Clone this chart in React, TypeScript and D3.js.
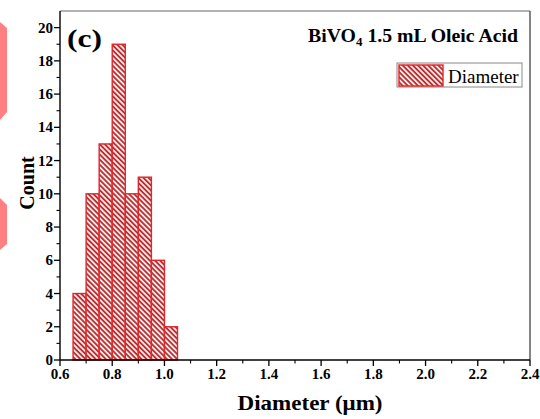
import React from "react";
import * as d3 from "d3";

const binStarts = [0.65, 0.7, 0.75, 0.8, 0.85, 0.9, 0.95, 1.0];
const counts = [4, 10, 13, 19, 10, 11, 6, 2];
const binWidth = 0.05;
const xTicks = [0.6, 0.8, 1.0, 1.2, 1.4, 1.6, 1.8, 2.0, 2.2, 2.4];
const yTicks = [0, 2, 4, 6, 8, 10, 12, 14, 16, 18, 20];

const W = 540, H = 419;
const L = 60, R = 530, T = 11, B = 360;
const FONT = "'Liberation Serif', 'Times New Roman', serif";

export default function App() {
  const x = d3.scaleLinear().domain([0.6, 2.4]).range([L, R]);
  const y = d3.scaleLinear().domain([0, 21]).range([B, T]);
  const xMinor = d3.range(0.7, 2.4, 0.2);
  const yMinor = d3.range(1, 21, 2);
  const red = "#e0262b";
  return (
    <svg width={W} height={H} style={{ position: "absolute", left: 0, top: 0, background: "#fff" }}>
      <defs>
        <pattern id="hatch" patternUnits="userSpaceOnUse" width="3.6" height="3.6" patternTransform="rotate(-45)">
          <rect width="3.6" height="3.6" fill="#fde9e5" />
          <line x1="0.9" y1="0" x2="0.9" y2="3.6" stroke="#b3252b" strokeWidth="1.7" />
        </pattern>
      </defs>
      {/* decorative pink shapes on the left edge */}
      <polygon points="0,22 7,28 7,112 0,120" fill="#ff8080" />
      <polygon points="0,198 7,205 7,244 0,250" fill="#ff8080" />
      {/* frame */}
      <line x1={L} x2={R} y1={T} y2={T} stroke="#666" strokeWidth={1.2} />
      <line x1={R} x2={R} y1={T} y2={B} stroke="#333" strokeWidth={1.2} />
      {/* bars */}
      {binStarts.map((s, i) => (
        <rect key={i} x={x(s)} y={y(counts[i])} width={x(s + binWidth) - x(s)} height={B - y(counts[i])}
          fill="url(#hatch)" stroke={red} strokeWidth={1.4} />
      ))}
      {/* axes */}
      <line x1={L} x2={R} y1={B} y2={B} stroke="#000" strokeWidth={1.4} />
      <line x1={L} x2={L} y1={T} y2={B} stroke="#000" strokeWidth={1.4} />
      {xTicks.map((t) => (
        <g key={"xt" + t}>
          <line x1={x(t)} x2={x(t)} y1={B} y2={B + 6} stroke="#000" strokeWidth={1.3} />
          <text x={x(t)} y={B + 19} textAnchor="middle" fontFamily={FONT} fontWeight="bold" fontSize={15}>{t.toFixed(1)}</text>
        </g>
      ))}
      {xMinor.map((t) => (
        <line key={"xm" + t} x1={x(t)} x2={x(t)} y1={B} y2={B + 3.5} stroke="#000" strokeWidth={1.1} />
      ))}
      {yTicks.map((t) => (
        <g key={"yt" + t}>
          <line x1={L - 6} x2={L} y1={y(t)} y2={y(t)} stroke="#000" strokeWidth={1.3} />
          <text x={L - 7} y={y(t) + 5} textAnchor="end" fontFamily={FONT} fontWeight="bold" fontSize={15}>{t}</text>
        </g>
      ))}
      {yMinor.map((t) => (
        <line key={"ym" + t} x1={L - 3.5} x2={L} y1={y(t)} y2={y(t)} stroke="#000" strokeWidth={1.1} />
      ))}
      {/* labels */}
      <text x={310} y={410} textAnchor="middle" fontFamily={FONT} fontWeight="bold" fontSize={22}
        textLength={145} lengthAdjust="spacingAndGlyphs">Diameter (μm)</text>
      <text transform={`translate(34,183) rotate(-90)`} textAnchor="middle" fontFamily={FONT} fontWeight="bold" fontSize={20}>Count</text>
      <text x={67} y={47} fontFamily={FONT} fontWeight="bold" fontSize={26} textLength={35} lengthAdjust="spacingAndGlyphs">(c)</text>
      <text x={518} y={42} textAnchor="end" fontFamily={FONT} fontWeight="bold" fontSize={19.8}>
        BiVO<tspan fontSize={13} dy={4}>4</tspan><tspan dy={-4}> 1.5 mL Oleic Acid</tspan>
      </text>
      {/* legend */}
      <rect x={397} y={63} width={125} height={24} fill="#fff" stroke="#888" strokeWidth={1} />
      <rect x={399} y={65} width={44} height={21} fill="url(#hatch)" stroke={red} strokeWidth={1.4} />
      <text x={448} y={83} fontFamily={FONT} fontSize={19}>Diameter</text>
    </svg>
  );
}
